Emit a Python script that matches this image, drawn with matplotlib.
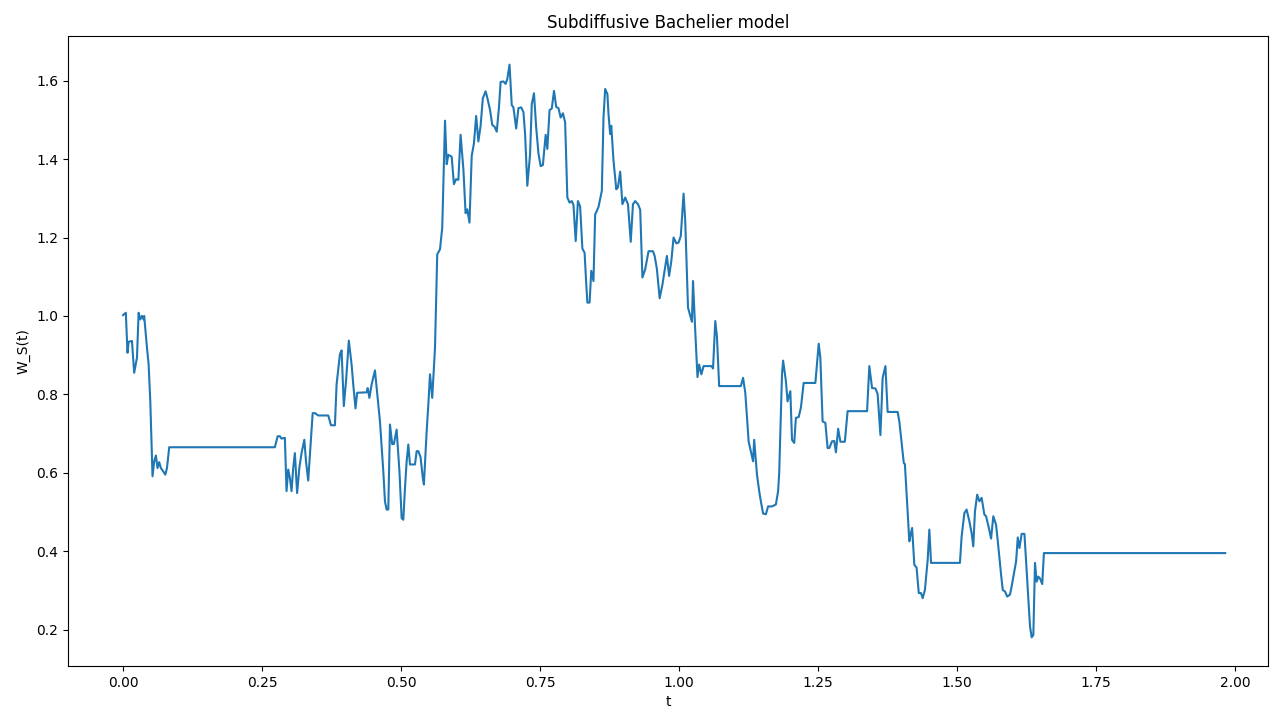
import numpy as np
import matplotlib
matplotlib.use("Agg")
from matplotlib import pyplot as plt

# time grid and sampled path of the subordinated process
t = [0.000, 0.005, 0.008, 0.010, 0.016, 0.020, 0.025, 0.028, 0.031, 0.034,
     0.037, 0.038, 0.043, 0.046, 0.049, 0.053, 0.056, 0.059, 0.062, 0.065,
     0.068, 0.072, 0.076, 0.079, 0.083, 0.273, 0.278, 0.282, 0.285, 0.291,
     0.294, 0.297, 0.300, 0.303, 0.306, 0.309, 0.313, 0.317, 0.321, 0.326,
     0.329, 0.333, 0.336, 0.341, 0.345, 0.351, 0.369, 0.374, 0.381, 0.384,
     0.390, 0.393, 0.397, 0.401, 0.406, 0.411, 0.414, 0.418, 0.421, 0.438,
     0.440, 0.443, 0.447, 0.453, 0.462, 0.468, 0.471, 0.474, 0.477, 0.480,
     0.484, 0.487, 0.492, 0.497, 0.501, 0.504, 0.507, 0.510, 0.513, 0.516,
     0.525, 0.528, 0.531, 0.535, 0.539, 0.541, 0.546, 0.549, 0.552, 0.556,
     0.561, 0.565, 0.570, 0.574, 0.579, 0.582, 0.585, 0.591, 0.595, 0.599,
     0.603, 0.607, 0.612, 0.616, 0.619, 0.623, 0.627, 0.631, 0.635, 0.639,
     0.643, 0.647, 0.652, 0.655, 0.660, 0.664, 0.668, 0.672, 0.676, 0.679,
     0.684, 0.688, 0.691, 0.695, 0.699, 0.702, 0.707, 0.711, 0.716, 0.720,
     0.723, 0.727, 0.732, 0.735, 0.739, 0.743, 0.747, 0.751, 0.755, 0.760,
     0.763, 0.767, 0.771, 0.775, 0.779, 0.783, 0.787, 0.791, 0.795, 0.799,
     0.803, 0.807, 0.810, 0.814, 0.818, 0.822, 0.826, 0.830, 0.833, 0.835,
     0.839, 0.842, 0.846, 0.849, 0.852, 0.855, 0.858, 0.861, 0.864, 0.867,
     0.871, 0.873, 0.876, 0.878, 0.882, 0.887, 0.890, 0.894, 0.898, 0.903,
     0.908, 0.913, 0.917, 0.921, 0.926, 0.930, 0.934, 0.939, 0.945, 0.953,
     0.956, 0.960, 0.965, 0.970, 0.978, 0.982, 0.986, 0.990, 0.995, 0.999,
     1.003, 1.008, 1.011, 1.016, 1.020, 1.023, 1.025, 1.029, 1.033, 1.036,
     1.040, 1.044, 1.058, 1.061, 1.065, 1.068, 1.072, 1.111, 1.115, 1.119,
     1.125, 1.129, 1.133, 1.135, 1.140, 1.144, 1.147, 1.151, 1.156, 1.160,
     1.167, 1.174, 1.178, 1.180, 1.185, 1.187, 1.192, 1.195, 1.200, 1.203,
     1.207, 1.210, 1.215, 1.219, 1.224, 1.245, 1.251, 1.254, 1.258, 1.263,
     1.267, 1.270, 1.275, 1.279, 1.282, 1.286, 1.290, 1.298, 1.303, 1.338,
     1.342, 1.347, 1.353, 1.357, 1.362, 1.366, 1.371, 1.375, 1.393, 1.396,
     1.404, 1.406, 1.411, 1.414, 1.416, 1.419, 1.423, 1.427, 1.431, 1.435,
     1.438, 1.442, 1.447, 1.450, 1.453, 1.505, 1.508, 1.513, 1.517, 1.522,
     1.526, 1.529, 1.532, 1.536, 1.540, 1.544, 1.549, 1.552, 1.557, 1.561,
     1.565, 1.570, 1.574, 1.579, 1.582, 1.586, 1.590, 1.595, 1.598, 1.606,
     1.609, 1.612, 1.616, 1.621, 1.624, 1.627, 1.631, 1.634, 1.637, 1.640,
     1.643, 1.646, 1.649, 1.653, 1.656, 1.982]

w = [1.002, 1.008, 0.906, 0.934, 0.936, 0.855, 0.893, 1.008, 0.991, 1.000,
     0.991, 1.000, 0.919, 0.876, 0.782, 0.591, 0.629, 0.644, 0.612, 0.627,
     0.612, 0.604, 0.595, 0.612, 0.665, 0.665, 0.693, 0.693, 0.687, 0.689,
     0.553, 0.608, 0.587, 0.553, 0.612, 0.650, 0.548, 0.612, 0.650, 0.684,
     0.629, 0.580, 0.646, 0.752, 0.752, 0.746, 0.746, 0.721, 0.721, 0.825,
     0.902, 0.912, 0.770, 0.834, 0.937, 0.876, 0.825, 0.764, 0.804, 0.805,
     0.816, 0.791, 0.825, 0.861, 0.731, 0.604, 0.527, 0.506, 0.506, 0.723,
     0.673, 0.673, 0.710, 0.604, 0.484, 0.480, 0.561, 0.629, 0.672, 0.621,
     0.621, 0.655, 0.655, 0.640, 0.587, 0.570, 0.706, 0.774, 0.851, 0.791,
     0.919, 1.157, 1.170, 1.225, 1.498, 1.387, 1.411, 1.406, 1.336, 1.349,
     1.347, 1.462, 1.375, 1.262, 1.272, 1.238, 1.408, 1.440, 1.510, 1.445,
     1.485, 1.555, 1.573, 1.557, 1.525, 1.487, 1.483, 1.470, 1.532, 1.597,
     1.598, 1.592, 1.604, 1.641, 1.538, 1.532, 1.478, 1.530, 1.532, 1.520,
     1.464, 1.332, 1.413, 1.540, 1.568, 1.480, 1.415, 1.382, 1.385, 1.462,
     1.426, 1.525, 1.529, 1.574, 1.533, 1.530, 1.506, 1.517, 1.494, 1.302,
     1.289, 1.293, 1.283, 1.191, 1.293, 1.279, 1.172, 1.161, 1.081, 1.034,
     1.034, 1.115, 1.089, 1.259, 1.268, 1.278, 1.298, 1.319, 1.506, 1.579,
     1.566, 1.515, 1.464, 1.485, 1.396, 1.323, 1.328, 1.368, 1.285, 1.302,
     1.285, 1.189, 1.285, 1.293, 1.285, 1.271, 1.098, 1.119, 1.165, 1.165,
     1.153, 1.120, 1.045, 1.080, 1.153, 1.102, 1.140, 1.200, 1.185, 1.187,
     1.204, 1.312, 1.242, 1.021, 1.000, 0.985, 1.089, 0.961, 0.844, 0.876,
     0.851, 0.872, 0.872, 0.866, 0.987, 0.948, 0.821, 0.821, 0.842, 0.804,
     0.680, 0.655, 0.629, 0.684, 0.595, 0.553, 0.527, 0.496, 0.494, 0.514,
     0.514, 0.519, 0.553, 0.600, 0.851, 0.886, 0.834, 0.782, 0.808, 0.684,
     0.676, 0.740, 0.742, 0.766, 0.829, 0.829, 0.929, 0.893, 0.731, 0.727,
     0.663, 0.663, 0.680, 0.681, 0.652, 0.712, 0.679, 0.679, 0.757, 0.757,
     0.872, 0.816, 0.815, 0.801, 0.696, 0.842, 0.872, 0.755, 0.755, 0.731,
     0.625, 0.622, 0.501, 0.425, 0.440, 0.459, 0.365, 0.358, 0.293, 0.293,
     0.280, 0.301, 0.378, 0.455, 0.370, 0.370, 0.437, 0.497, 0.506, 0.476,
     0.446, 0.412, 0.501, 0.544, 0.527, 0.536, 0.493, 0.489, 0.459, 0.432,
     0.489, 0.467, 0.412, 0.340, 0.301, 0.297, 0.284, 0.289, 0.310, 0.374,
     0.435, 0.408, 0.444, 0.444, 0.374, 0.306, 0.208, 0.180, 0.186, 0.370,
     0.322, 0.335, 0.330, 0.316, 0.395, 0.395]

fig = plt.figure(figsize=(12.73, 7.08), dpi=100)
ax = fig.add_axes([68/1273, 42/708, 1200/1273, 630/708])
ax.plot(np.array(t), np.array(w))
ax.set_xlim(-0.099, 2.059)
ax.set_title("Subdiffusive Bachelier model")
ax.set_xlabel("t")
ax.set_ylabel("W_S(t)")
ax.set_xticks(np.arange(0, 2.01, 0.25))
fig.savefig("out.png", dpi=100)
